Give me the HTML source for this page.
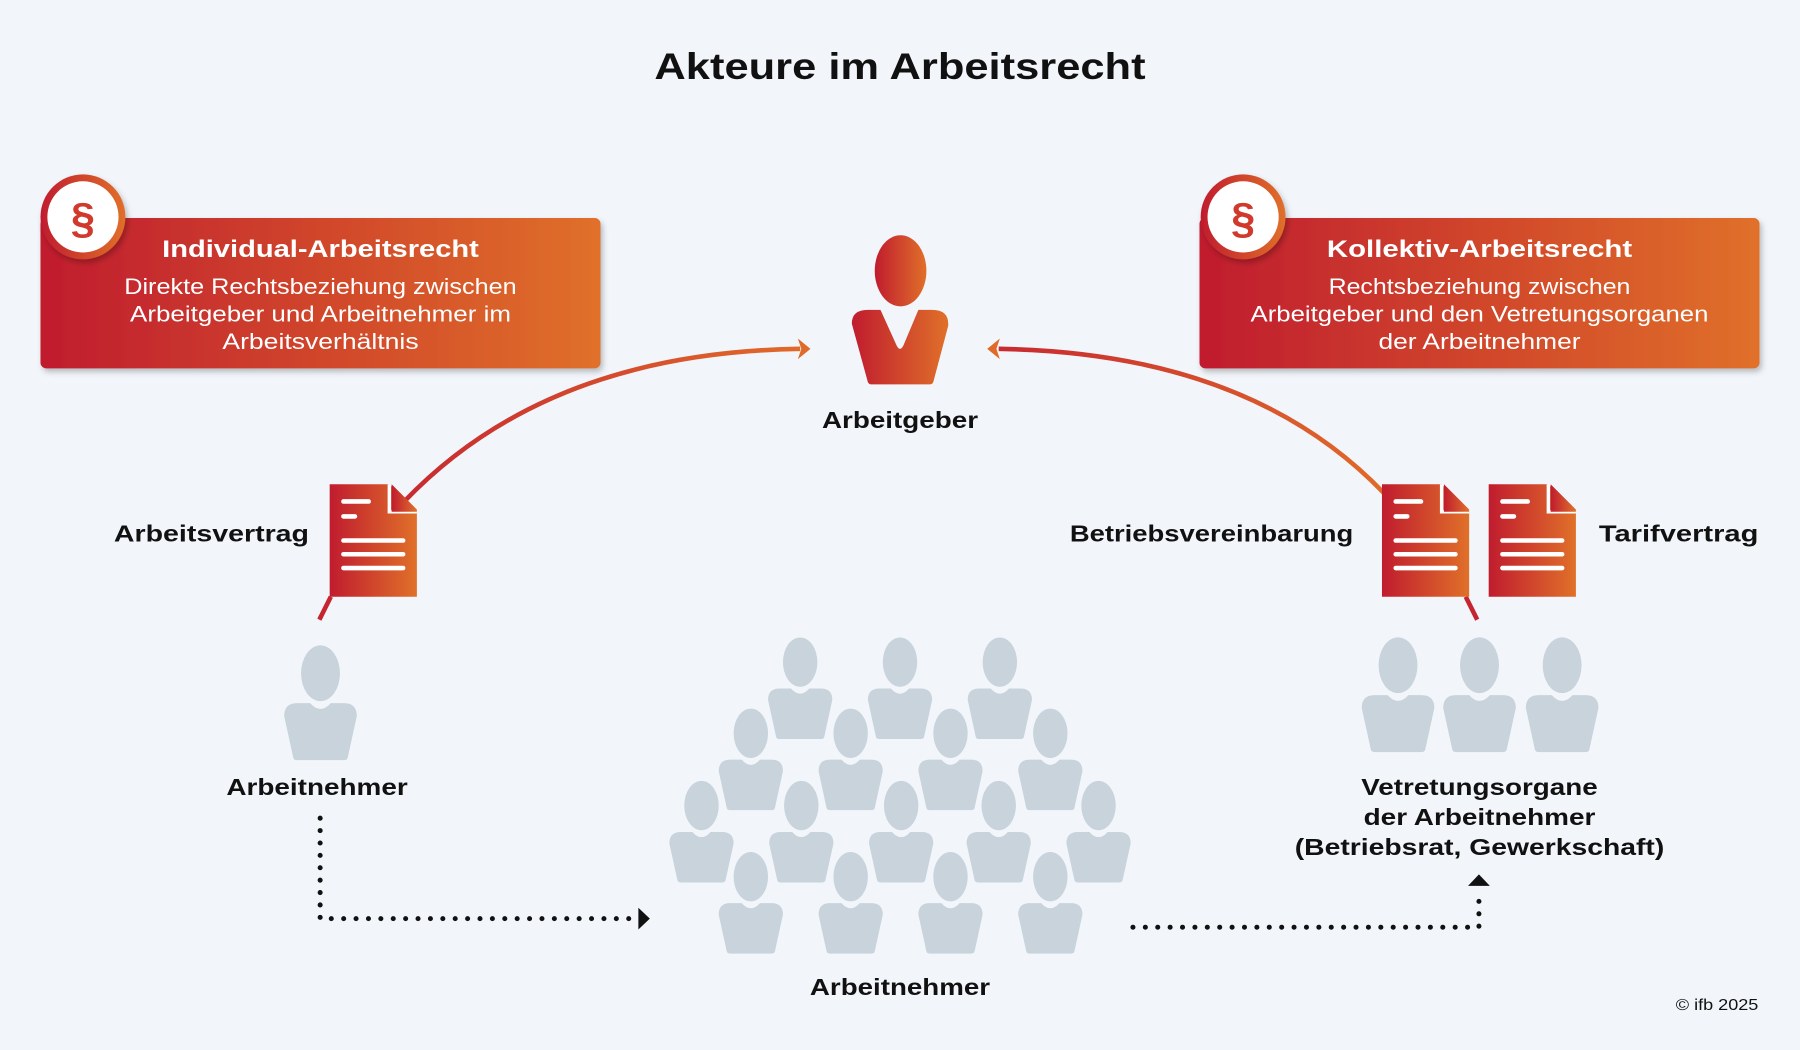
<!DOCTYPE html>
<html><head><meta charset="utf-8"><style>
html,body{margin:0;padding:0;background:#f2f6fb;}
svg{display:block;}
text{font-family:"Liberation Sans",sans-serif;}
</style></head><body>
<svg width="1800" height="1050" viewBox="0 0 1568 915" xmlns="http://www.w3.org/2000/svg">
<defs>
<linearGradient id="g" x1="0" y1="0" x2="1" y2="0"><stop offset="0" stop-color="#c01c2e"/><stop offset="1" stop-color="#e0702a"/></linearGradient>
<linearGradient id="gr" x1="0" y1="0" x2="1" y2="0"><stop offset="0" stop-color="#c72a30"/><stop offset="1" stop-color="#e06a2a"/></linearGradient>
<filter id="sh" x="-10%" y="-10%" width="120%" height="130%"><feDropShadow dx="2" dy="3" stdDeviation="2.5" flood-color="#000" flood-opacity="0.25"/></filter>
<g id="p">
<ellipse cx="0" cy="21" rx="15" ry="21.5"/>
<path d="M-28,54 Q-28,44 -18,44 L-8,44 Q0,53 8,44 L18,44 Q28,44 28,54 L21,86 Q20.5,88 18,88 L-18,88 Q-20.5,88 -21,86 Z"/>
</g>
<g id="doc">
<path d="M0,0 H52 L76,24 V98 H0 Z" fill="url(#g)"/>
<path d="M52,0 V24 H76" fill="none" stroke="#fff" stroke-width="3"/>
<path d="M54,0 L76,22 V24 H54 Z" fill="url(#g)"/>
<g stroke="#fff" stroke-width="4" stroke-linecap="round">
<line x1="12" y1="15" x2="34" y2="15"/><line x1="12" y1="28" x2="22" y2="28"/>
<line x1="12" y1="49" x2="64" y2="49"/><line x1="12" y1="61" x2="64" y2="61"/><line x1="12" y1="73" x2="64" y2="73"/>
</g>
</g>
</defs>

<text x="784" y="69" text-anchor="middle" font-size="32" font-weight="bold" fill="#111" textLength="428" lengthAdjust="spacingAndGlyphs">Akteure im Arbeitsrecht</text>

<!-- boxes -->
<rect x="35" y="190" width="488" height="131" rx="5" fill="url(#g)" filter="url(#sh)"/>
<circle cx="72" cy="189" r="37" fill="url(#g)" filter="url(#sh)"/>
<circle cx="72" cy="189" r="31" fill="#fff"/>
<text x="72" y="203" text-anchor="middle" font-size="38" font-weight="bold" fill="#d0392b">§</text>
<text x="279" y="224" text-anchor="middle" font-size="21" font-weight="bold" fill="#fff" textLength="276" lengthAdjust="spacingAndGlyphs">Individual-Arbeitsrecht</text>
<text x="279" y="256" text-anchor="middle" font-size="19" fill="#fff" textLength="342" lengthAdjust="spacingAndGlyphs">Direkte Rechtsbeziehung zwischen</text>
<text x="279" y="280" text-anchor="middle" font-size="19" fill="#fff" textLength="332" lengthAdjust="spacingAndGlyphs">Arbeitgeber und Arbeitnehmer im</text>
<text x="279" y="304" text-anchor="middle" font-size="19" fill="#fff" textLength="171" lengthAdjust="spacingAndGlyphs">Arbeitsverhältnis</text>

<rect x="1045" y="190" width="488" height="131" rx="5" fill="url(#g)" filter="url(#sh)"/>
<circle cx="1083" cy="189" r="37" fill="url(#g)" filter="url(#sh)"/>
<circle cx="1083" cy="189" r="31" fill="#fff"/>
<text x="1083" y="203" text-anchor="middle" font-size="38" font-weight="bold" fill="#d0392b">§</text>
<text x="1289" y="224" text-anchor="middle" font-size="21" font-weight="bold" fill="#fff" textLength="266" lengthAdjust="spacingAndGlyphs">Kollektiv-Arbeitsrecht</text>
<text x="1289" y="256" text-anchor="middle" font-size="19" fill="#fff" textLength="263" lengthAdjust="spacingAndGlyphs">Rechtsbeziehung zwischen</text>
<text x="1289" y="280" text-anchor="middle" font-size="19" fill="#fff" textLength="399" lengthAdjust="spacingAndGlyphs">Arbeitgeber und den Vetretungsorganen</text>
<text x="1289" y="304" text-anchor="middle" font-size="19" fill="#fff" textLength="176" lengthAdjust="spacingAndGlyphs">der Arbeitnehmer</text>

<!-- arcs -->
<path d="M352,437 C440,345 560,306 697,304" fill="none" stroke="url(#gr)" stroke-width="4"/>
<path d="M695,295 L706,304 L695,313 L698,304 Z" fill="#e06a2a"/>
<path d="M1206,430 C1120,340 1000,306 870,304" fill="none" stroke="url(#gr)" stroke-width="4"/>
<path d="M871,295 L860,304 L871,313 L868,304 Z" fill="#e06a2a"/>
<line x1="288" y1="520" x2="278" y2="540" stroke="#c52430" stroke-width="4"/>
<line x1="1277" y1="520" x2="1287" y2="540" stroke="#c52430" stroke-width="4"/>

<!-- employer -->
<ellipse cx="784.5" cy="236" rx="22.5" ry="31" fill="url(#g)"/>
<path d="M742,282 Q742,270 756,270 L767,270 L781,301 Q784,307 787,301 L800,270 L812,270 Q827,270 826,284 L813,333 Q812,335 810,335 L759,335 Q757,335 756,333 Z" fill="url(#g)"/>
<text x="784" y="373" text-anchor="middle" font-size="20" font-weight="bold" fill="#111" textLength="136" lengthAdjust="spacingAndGlyphs">Arbeitgeber</text>

<!-- docs -->
<use href="#doc" x="287" y="422"/>
<use href="#doc" x="1204" y="422"/>
<use href="#doc" x="1297" y="422"/>
<text x="99" y="472" font-size="20" font-weight="bold" fill="#111" textLength="170" lengthAdjust="spacingAndGlyphs">Arbeitsvertrag</text>
<text x="932" y="472" font-size="20" font-weight="bold" fill="#111" textLength="247" lengthAdjust="spacingAndGlyphs">Betriebsvereinbarung</text>
<text x="1393" y="472" font-size="20" font-weight="bold" fill="#111" textLength="139" lengthAdjust="spacingAndGlyphs">Tarifvertrag</text>

<!-- people -->
<g fill="#c8d3dc">
<use href="#p" transform="translate(279,563) scale(1.13)"/>
<use href="#p" transform="translate(1218,556) scale(1.13)"/>
<use href="#p" transform="translate(1289,556) scale(1.13)"/>
<use href="#p" transform="translate(1361,556) scale(1.13)"/>
<use href="#p" x="697" y="556"/><use href="#p" x="784" y="556"/><use href="#p" x="871" y="556"/>
<use href="#p" x="654" y="618"/><use href="#p" x="741" y="618"/><use href="#p" x="828" y="618"/><use href="#p" x="915" y="618"/>
<use href="#p" x="611" y="681"/><use href="#p" x="698" y="681"/><use href="#p" x="785" y="681"/><use href="#p" x="870" y="681"/><use href="#p" x="957" y="681"/>
<use href="#p" x="654" y="743"/><use href="#p" x="741" y="743"/><use href="#p" x="828" y="743"/><use href="#p" x="915" y="743"/>
</g>
<text x="276" y="693" text-anchor="middle" font-size="20" font-weight="bold" fill="#111" textLength="158" lengthAdjust="spacingAndGlyphs">Arbeitnehmer</text>
<text x="784" y="867" text-anchor="middle" font-size="20" font-weight="bold" fill="#111" textLength="157" lengthAdjust="spacingAndGlyphs">Arbeitnehmer</text>
<text x="1289" y="693" text-anchor="middle" font-size="20" font-weight="bold" fill="#111" textLength="206" lengthAdjust="spacingAndGlyphs">Vetretungsorgane</text>
<text x="1289" y="719" text-anchor="middle" font-size="20" font-weight="bold" fill="#111" textLength="202" lengthAdjust="spacingAndGlyphs">der Arbeitnehmer</text>
<text x="1289" y="745" text-anchor="middle" font-size="20" font-weight="bold" fill="#111" textLength="322" lengthAdjust="spacingAndGlyphs">(Betriebsrat, Gewerkschaft)</text>

<!-- dotted connectors -->
<g fill="none" stroke="#111" stroke-width="4.4" stroke-linecap="round" stroke-dasharray="0 10.8">
<path d="M278.7,713 V800.5 H556"/>
<path d="M987,808 H1288.5 V776"/>
</g>
<path d="M556,791 L566,800.5 L556,810 Z" fill="#111"/>
<path d="M1279,772 L1288.5,762 L1298,772 Z" fill="#111"/>

<text x="1532" y="880" text-anchor="end" font-size="14" fill="#111" textLength="72" lengthAdjust="spacingAndGlyphs">© ifb 2025</text>
</svg>
</body></html>
